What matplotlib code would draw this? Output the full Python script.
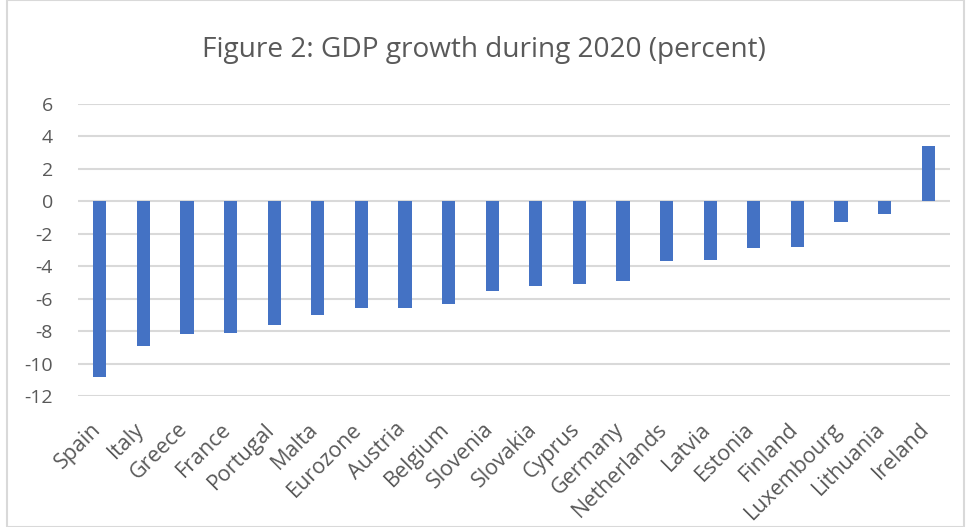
import matplotlib.pyplot as plt
from matplotlib.patches import Rectangle
from matplotlib.transforms import ScaledTranslation

countries = ['Spain', 'Italy', 'Greece', 'France', 'Portugal', 'Malta', 'Eurozone',
             'Austria', 'Belgium', 'Slovenia', 'Slovakia', 'Cyprus', 'Germany',
             'Netherlands', 'Latvia', 'Estonia', 'Finland', 'Luxembourg',
             'Lithuania', 'Ireland']
growth = [-10.8, -8.9, -8.2, -8.1, -7.6, -7.0, -6.6, -6.6, -6.3, -5.5, -5.2,
          -5.1, -4.9, -3.7, -3.6, -2.9, -2.8, -1.3, -0.8, 3.4]
yticks = [6, 4, 2, 0, -2, -4, -6, -8, -10, -12]

plt.rcParams['font.family'] = ['Open Sans', 'DejaVu Sans']

fig = plt.figure(figsize=(9.68, 5.27), dpi=100)
ax = fig.add_axes([78 / 968, 1 - 396 / 527, 872 / 968, 292 / 527])

x = range(len(countries))
ax.bar(x, growth, width=0.3, color='#4472c4', zorder=3)

ax.set_ylim(-12, 6)
ax.set_xlim(-0.5, len(countries) - 0.5)
ax.set_yticks(yticks)
ax.set_yticklabels([str(t) for t in yticks])
ax.set_xticks(list(x))
ax.set_xticklabels(countries, rotation=45, ha='right', va='bottom',
                   rotation_mode='anchor')
ax.tick_params(axis='y', length=0, labelsize=14, labelcolor='#595959', pad=18)
ax.tick_params(axis='x', length=0, labelsize=15.5, labelcolor='#595959', pad=27)
shift = ScaledTranslation(5 / 100, 0, fig.dpi_scale_trans)
for lbl in ax.get_xticklabels():
    lbl.set_transform(lbl.get_transform() + shift)
ax.grid(axis='y', color='#d9d9d9', linewidth=1.5, zorder=0)
for s in ax.spines.values():
    s.set_visible(False)

fig.text(0.5, 1 - 50 / 527, 'Figure 2: GDP growth during 2020 (percent)',
         ha='center', va='center', fontsize=20.2, color='#595959')

fig.patches.append(Rectangle((7 / 968, 0), 957 / 968, 1, transform=fig.transFigure,
                             fill=False, edgecolor='#d9d9d9', linewidth=1.5))

fig.savefig('out.png', dpi=100)
